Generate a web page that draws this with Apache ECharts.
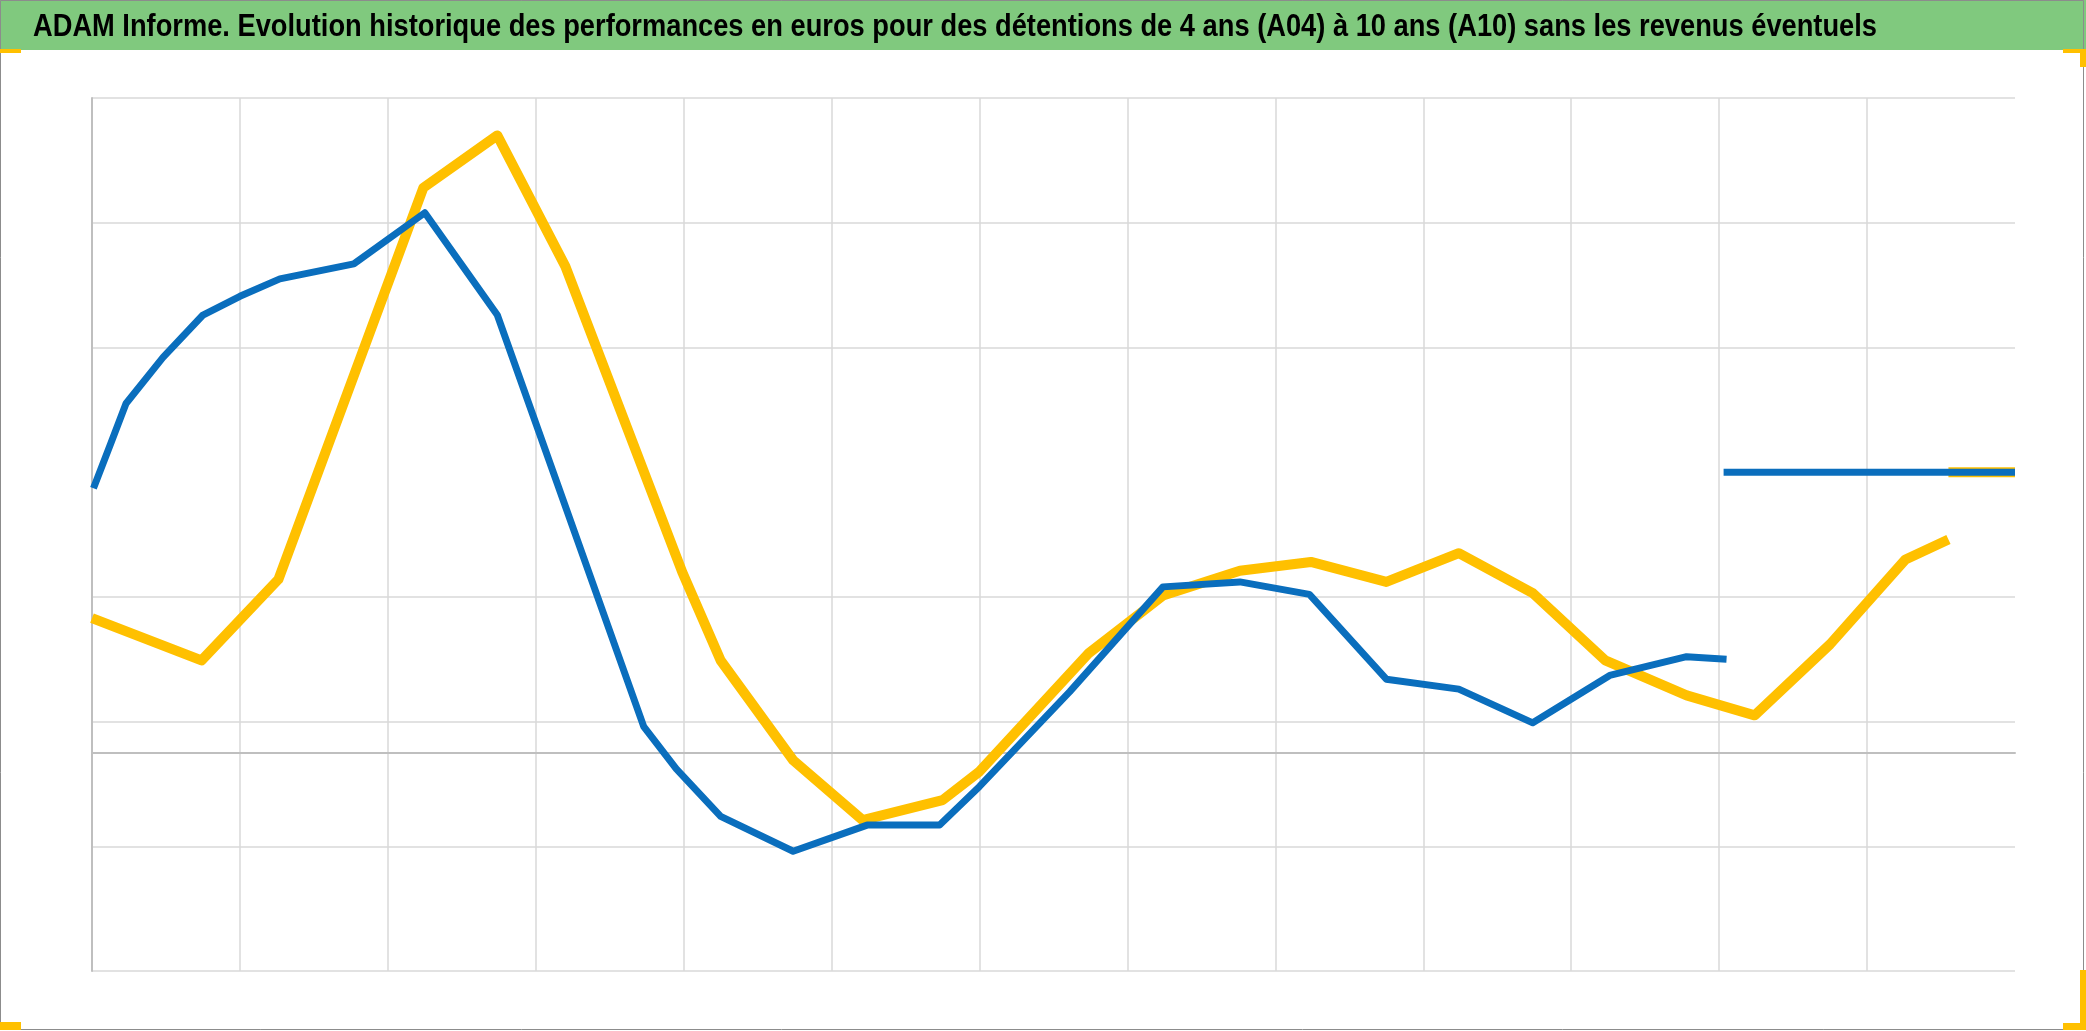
<!DOCTYPE html>
<html>
<head>
<meta charset="utf-8">
<script src="https://cdn.jsdelivr.net/npm/echarts@6/dist/echarts.min.js"></script>
<style>
html,body{margin:0;padding:0;background:#ffffff;}
#chart{width:2086px;height:1031px;}
</style>
</head>
<body>
<div id="chart"></div>
<script>
// ---- Data (x in axis periods, y in gridline units; axis labels are hidden in the source) ----
const titleText = "ADAM Informe. Evolution historique des performances en euros pour des détentions de 4 ans (A04) à 10 ans (A10) sans les revenus éventuels";

const blueX = [0.01, 0.13, 0.23, 0.48, 0.75, 1.0, 1.27, 1.77, 2.25, 2.74, 3.73, 3.95, 4.25, 4.74, 5.24, 5.73, 6.0, 6.61, 7.24, 7.76, 8.23, 8.75, 9.24, 9.74, 10.26, 10.78, 11.05];
const blueY = [2.12, 2.49, 2.80, 3.17, 3.51, 3.66, 3.80, 3.92, 4.33, 3.51, 0.21, -0.13, -0.51, -0.79, -0.58, -0.58, -0.27, 0.49, 1.33, 1.37, 1.27, 0.59, 0.51, 0.24, 0.62, 0.77, 0.75];
const blueTailX = [11.03, 13.0];
const blueTailY = [2.25, 2.25];

const yellowX = [0, 0.74, 1.26, 2.24, 2.74, 3.2, 3.99, 4.25, 4.74, 5.21, 5.75, 6.0, 6.74, 7.24, 7.76, 8.24, 8.75, 9.24, 9.74, 10.23, 10.78, 11.24, 11.75, 12.26, 12.55];
const yellowY = [1.08, 0.74, 1.39, 4.53, 4.95, 3.9, 1.45, 0.74, -0.06, -0.54, -0.38, -0.15, 0.80, 1.26, 1.46, 1.53, 1.37, 1.60, 1.28, 0.74, 0.46, 0.30, 0.87, 1.55, 1.71];
const yellowTailX = [12.55, 13.0];
const yellowTailY = [2.25, 2.25];

const xMin = 0, xMax = 13, xStep = 1;
const yMin = -1.75, yMax = 5.25, yStep = 1;

// ---- Build ----
function pairs(xs, ys) { return xs.map((x, i) => [x, ys[i]]); }

const BLUE = '#0a6ebd';
const GOLD = '#ffc000';
const GRID = '#d9d9d9';

// title: condensed look (source uses a narrow font) via horizontal scaling
const TITLE_FONT = 'bold 31px "Liberation Sans", Arial, sans-serif';
const TITLE_WIDTH = 1844;
const mctx = document.createElement('canvas').getContext('2d');
mctx.font = TITLE_FONT;
const titleScale = TITLE_WIDTH / mctx.measureText(titleText).width;

const chart = echarts.init(document.getElementById('chart'), null, {renderer: 'canvas'});

const lineSeries = (name, data, color, width) => ({
  name: name,
  type: 'line',
  data: data,
  showSymbol: false,
  symbol: 'none',
  lineStyle: {color: color, width: width, cap: 'butt', join: 'round'},
  itemStyle: {color: color},
  animation: false,
  clip: true
});

chart.setOption({
  backgroundColor: '#ffffff',
  animation: false,
  graphic: [
    {type: 'rect', z: 0, shape: {x: 0, y: 0, width: 2086, height: 50}, style: {fill: '#80c97e'}},
    {type: 'text', z: 3, x: 33, y: 27, scaleX: titleScale, scaleY: 1,
      style: {text: titleText, font: TITLE_FONT, fill: '#000000', align: 'left', verticalAlign: 'middle'}},
    {type: 'rect', z: 1, shape: {x: 0.5, y: 0.5, width: 2083, height: 1029}, style: {fill: 'none', stroke: '#8c8c8c', lineWidth: 1}},
    {type: 'rect', z: 2, shape: {x: 0, y: 49, width: 21, height: 4}, style: {fill: GOLD}},
    {type: 'rect', z: 2, shape: {x: 2063, y: 49, width: 23, height: 4}, style: {fill: GOLD}},
    {type: 'rect', z: 2, shape: {x: 2080, y: 49, width: 6, height: 18}, style: {fill: GOLD}},
    {type: 'rect', z: 2, shape: {x: 0, y: 1022, width: 21, height: 8}, style: {fill: GOLD}},
    {type: 'rect', z: 2, shape: {x: 2080, y: 970, width: 6, height: 60}, style: {fill: GOLD}},
    {type: 'rect', z: 2, shape: {x: 2063, y: 1023, width: 23, height: 7}, style: {fill: GOLD}}
  ],
  grid: {left: 92, right: 71, top: 98, bottom: 60, containLabel: false},
  xAxis: {
    type: 'value',
    min: xMin, max: xMax, interval: xStep,
    axisLabel: {show: false},
    axisTick: {show: false},
    axisLine: {show: true, onZero: true, lineStyle: {color: '#bfbfbf', width: 2}},
    splitLine: {show: true, showMaxLine: false, lineStyle: {color: GRID, width: 1.5}}
  },
  yAxis: {
    type: 'value',
    min: yMin, max: yMax, interval: yStep,
    axisLabel: {show: false},
    axisTick: {show: false},
    axisLine: {show: true, onZero: false, lineStyle: {color: '#bfbfbf', width: 2}},
    splitLine: {show: true, lineStyle: {color: [GRID, GRID, GRID, GRID, 'rgba(0,0,0,0)', GRID, GRID, GRID], width: 1.5}}
  },
  series: [
    lineSeries('A10', pairs(yellowX, yellowY), GOLD, 10),
    lineSeries('A10', pairs(yellowTailX, yellowTailY), GOLD, 10),
    lineSeries('A04', pairs(blueX, blueY), BLUE, 7),
    lineSeries('A04', pairs(blueTailX, blueTailY), BLUE, 7)
  ]
});
</script>
</body>
</html>
